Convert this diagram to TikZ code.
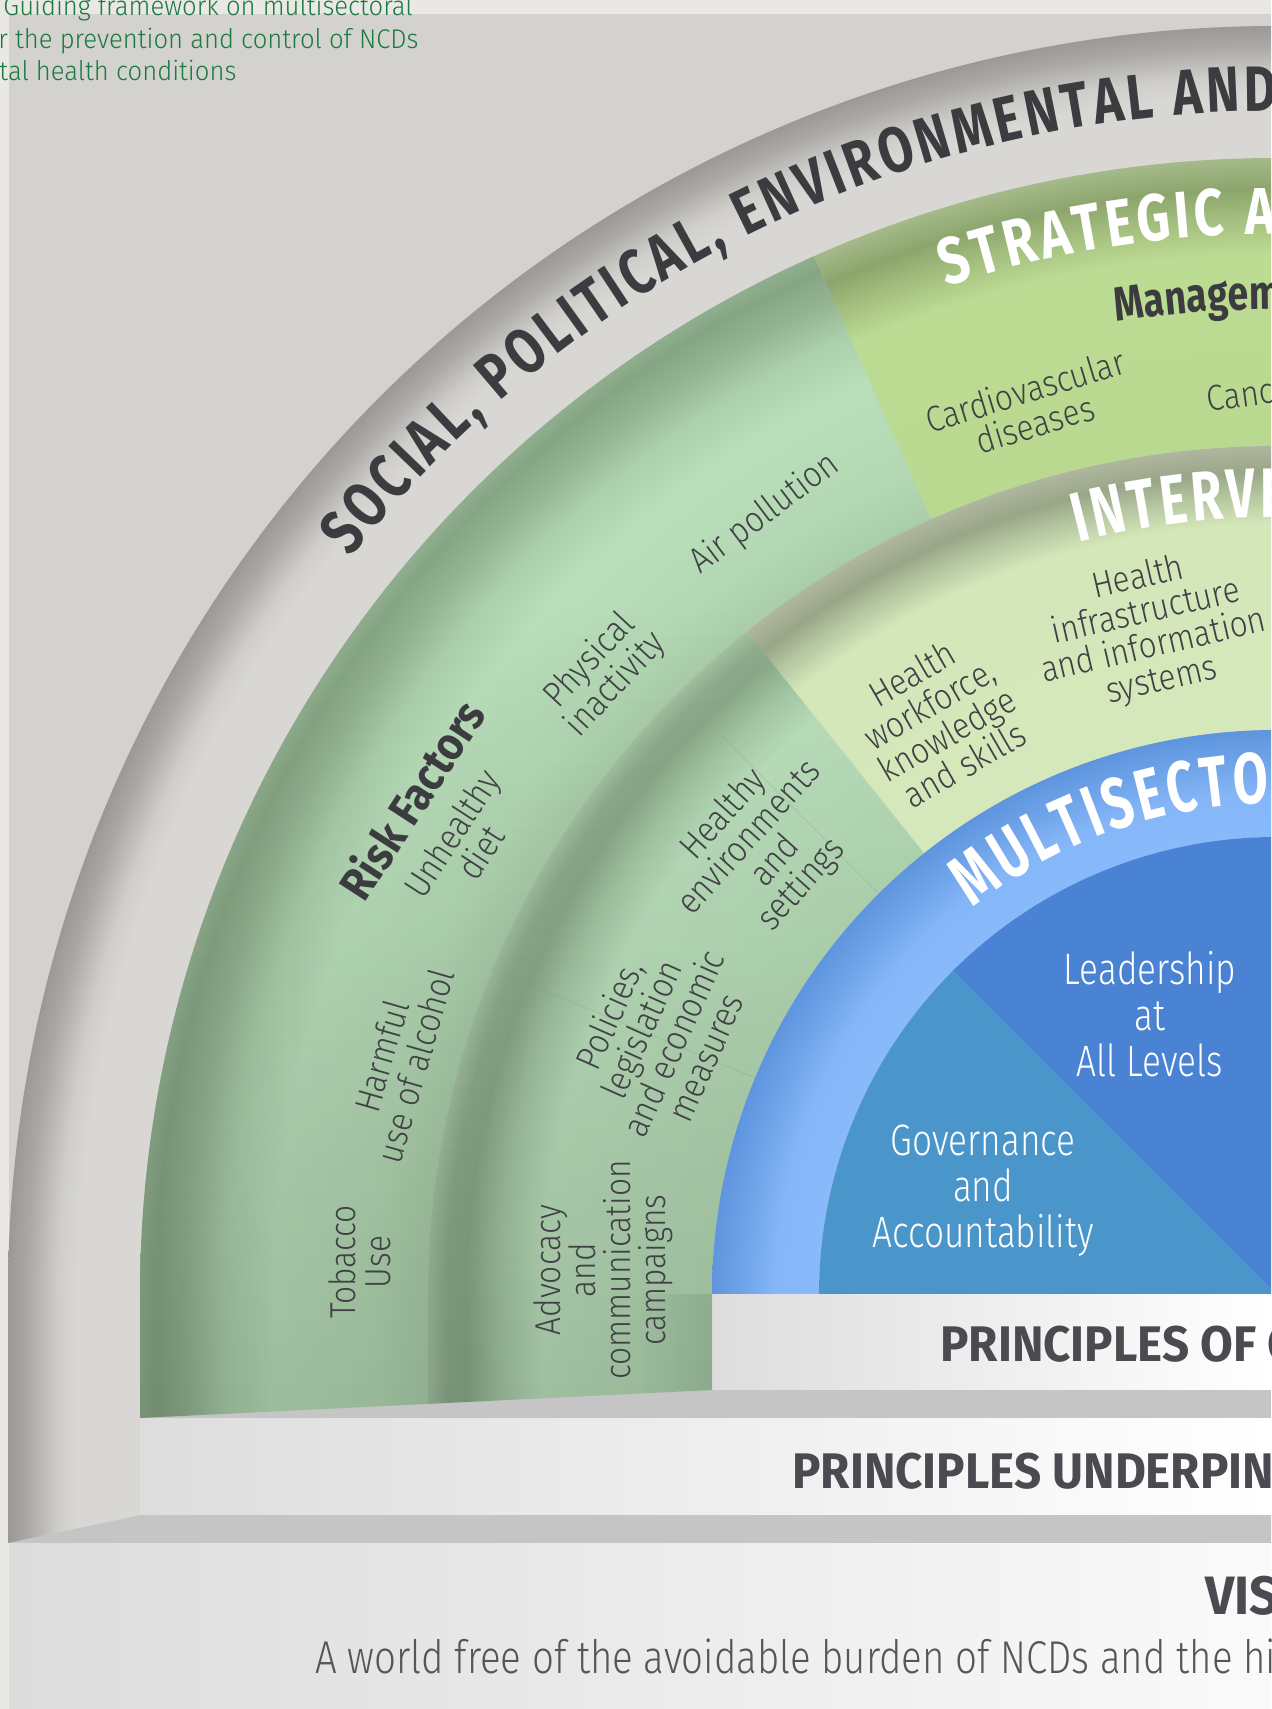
\documentclass[tikz,border=0pt]{standalone}
\usepackage{fontspec}
\setmainfont{Fira Sans}
\newfontfamily\ltf{Fira Sans Light}[FakeStretch=0.88]
\newfontfamily\ltn{Fira Sans Light}[FakeStretch=0.8]
\newfontfamily\ltv{Fira Sans Light}[FakeStretch=0.835]
\newfontfamily\ltt{Fira Sans Light}[FakeStretch=0.95]
\newfontfamily\bdf{Fira Sans}[FakeStretch=0.95]
\newfontfamily\bdr{Fira Sans}[FakeStretch=0.9]
\newfontfamily\bdn{Fira Sans}[FakeStretch=0.78]
\newfontfamily\bdm{Fira Sans}[FakeStretch=0.72]
\newfontfamily\bdk{Fira Sans}[FakeStretch=0.70]
\usetikzlibrary{decorations.text,fadings}

\definecolor{bgL}{HTML}{E9E8E4}
\definecolor{panel}{HTML}{D3D2CE}
\definecolor{strip}{HTML}{C5C5C5}
\definecolor{bnd0}{HTML}{DDDDDD}
\definecolor{vis0}{HTML}{DCDCDC}
\definecolor{vis1}{HTML}{FAFAFA}
\definecolor{headdark}{HTML}{3B3B40}
\definecolor{banddark}{HTML}{4A4A50}
\definecolor{lbldark}{HTML}{404045}
\definecolor{visgray}{HTML}{55555A}
\definecolor{ttlgreen}{HTML}{1B7A40}
% gray ring
\definecolor{gr1}{HTML}{D8D7D3}
\definecolor{gr2}{HTML}{CFCECA}
\definecolor{gr3}{HTML}{ABA9A6}
\definecolor{gr4}{HTML}{9B9997}
% risk ring
\definecolor{rk0}{HTML}{A9CDA9}
\definecolor{rk1}{HTML}{B3D8B3}
\definecolor{rk2}{HTML}{B9DEBA}
\definecolor{rk3}{HTML}{ABCFAB}
\definecolor{rk4}{HTML}{93B391}
\definecolor{rk5}{HTML}{86A584}
\definecolor{rk6}{HTML}{8FAE8D}
% strategic ring
\definecolor{st0}{HTML}{B9D990}
\definecolor{st1}{HTML}{BCDB93}
\definecolor{st2}{HTML}{A0BB7C}
\definecolor{st3}{HTML}{8CA56C}
\definecolor{st4}{HTML}{A4BA8A}
% inner green ring
\definecolor{ig0}{HTML}{B5DAB5}
\definecolor{ig1}{HTML}{BBE0BC}
\definecolor{ig2}{HTML}{A6C9A6}
\definecolor{ig3}{HTML}{8BAA89}
\definecolor{ig4}{HTML}{8FAE8E}
\definecolor{ig5}{HTML}{A3C1A1}
\definecolor{ig6}{HTML}{A3C7A3}
% interventions ring
\definecolor{iv0}{HTML}{D5E8BB}
\definecolor{iv1}{HTML}{D4E7B9}
\definecolor{iv2}{HTML}{B3C49F}
\definecolor{iv3}{HTML}{99A687}
\definecolor{iv4}{HTML}{AFB69F}
% blue ring
\definecolor{bl0}{HTML}{88B9FA}
\definecolor{bl1}{HTML}{85B6F8}
\definecolor{bl2}{HTML}{6EA3E8}
\definecolor{bl3}{HTML}{5E95DE}
\definecolor{gov}{HTML}{4A95C9}
\definecolor{lead}{HTML}{4A83D3}
\definecolor{faintline}{HTML}{7E9C7C}

\pgfdeclareradialshading{grayring}{\pgfpoint{0bp}{0bp}}{color(0bp)=(gr1); color(23.6bp)=(gr1); color(24.0bp)=(gr2); color(24.6bp)=(gr3); color(25bp)=(gr4); color(50bp)=(gr4)}
\pgfdeclareradialshading{riskring}{\pgfpoint{0bp}{0bp}}{color(0bp)=(rk0); color(18.66bp)=(rk0); color(19.81bp)=(rk1); color(22.01bp)=(rk2); color(23.11bp)=(rk3); color(23.99bp)=(rk4); color(24.65bp)=(rk5); color(25bp)=(rk6); color(50bp)=(rk6)}
\pgfdeclareradialshading{stratring}{\pgfpoint{0bp}{0bp}}{color(0bp)=(st0); color(18.66bp)=(st0); color(22.89bp)=(st1); color(23.77bp)=(st2); color(24.32bp)=(st3); color(25bp)=(st4); color(50bp)=(st4)}
\pgfdeclareradialshading{innerring}{\pgfpoint{0bp}{0bp}}{color(0bp)=(ig0); color(16.63bp)=(ig0); color(21.67bp)=(ig1); color(22.85bp)=(ig2); color(23.88bp)=(ig3); color(24.47bp)=(ig4); color(25bp)=(ig5); color(50bp)=(ig5)}
\pgfdeclareradialshading{intring}{\pgfpoint{0bp}{0bp}}{color(0bp)=(iv0); color(16.63bp)=(iv0); color(22.7bp)=(iv1); color(23.58bp)=(iv2); color(24.23bp)=(iv3); color(25bp)=(iv4); color(50bp)=(iv4)}
\pgfdeclareradialshading{bluering}{\pgfpoint{0bp}{0bp}}{color(0bp)=(bl0); color(20.26bp)=(bl0); color(22.16bp)=(bl1); color(23.71bp)=(bl2); color(25bp)=(bl3); color(50bp)=(bl3)}
% walls mirror the ring profiles (x = 1276 - r)
\pgfdeclarehorizontalshading{graywall}{100bp}{color(0bp)=(gr4); color(25bp)=(gr4); color(32.6bp)=(gr3); color(44.3bp)=(gr2); color(51.9bp)=(gr1); color(75bp)=(gr1); color(100bp)=(gr1)}
\pgfdeclarehorizontalshading{riskwall}{100bp}{color(0bp)=(rk6); color(25bp)=(rk6); color(27.8bp)=(rk5); color(33.0bp)=(rk4); color(39.9bp)=(rk3); color(48.6bp)=(rk2); color(66.0bp)=(rk1); color(75bp)=(rk0); color(100bp)=(rk0)}
\pgfdeclarehorizontalshading{innerwall}{100bp}{color(0bp)=(ig5); color(25bp)=(ig5); color(28.2bp)=(ig4); color(31.7bp)=(ig3); color(37.9bp)=(ig2); color(44.9bp)=(ig1); color(62bp)=(ig0); color(75bp)=(ig6); color(100bp)=(ig6)}
\tikzfading[name=darkdown, top color=transparent!100, bottom color=transparent!85]

\tikzset{
  lbl/.style={font=\ltf\fontsize{18}{17.5}\selectfont, text=lbldark, align=center, inner sep=0pt},
  lblw/.style={font=\ltn\fontsize{22}{23}\selectfont, text=white, align=center, inner sep=0pt},
  ttl/.style={font=\ltt\fontsize{13.5}{16}\selectfont, text=ttlgreen, anchor=base west, inner sep=0pt},
  bandtxt/.style={font=\bdf\bfseries\fontsize{25}{25}\selectfont, text=banddark, anchor=base west, inner sep=0pt},
  faint/.style={draw=faintline, line width=0.35pt, opacity=0.3},
}

\begin{document}
\begin{tikzpicture}[x=0.5pt,y=0.5pt]
\useasboundingbox (0,0) rectangle (1271,1709);
\clip (0,0) rectangle (1271,1709);
% background and panel
\fill[bgL] (0,0) rectangle (1271,1709);
\fill[panel] (9,0) rectangle (1271,1695);
% bottom steps
\shade[left color=vis0, right color=vis1] (9,0) rectangle (1271,166);
\fill[strip] (8,166) -- (1271,166) -- (1271,194) -- (140,194) -- cycle;
\shade[left color=bnd0, right color=white] (140,194) rectangle (1271,291);
\fill[strip] (140,291) rectangle (1271,319);
\shade[left color=bnd0, right color=white] (712,319) rectangle (1271,415);
% walls
\begin{scope}
  \clip (8,415) -- (140,415) -- (140,194) -- (8,166) -- cycle;
  \shade[shading=graywall] (8,160) rectangle (140,420);
\end{scope}
\begin{scope}
  \clip (140,415.5) -- (428,415.5) -- (428,305.1) -- (140,291) -- cycle;
  \shade[shading=riskwall] (140,280) rectangle (428,420);
\end{scope}
\begin{scope}
  \clip (428,415.5) -- (712,415.5) -- (712,319) -- (428,305.1) -- cycle;
  \shade[shading=innerwall] (428,300) rectangle (712,420);
\end{scope}
% rings, centred at (1276,415)
\begin{scope}[shift={(1276,415)}]
  \begin{scope}
    \clip (85:1268) arc[start angle=85,end angle=180,radius=1268] -- (180:1136) arc[start angle=180,end angle=85,radius=1136] -- cycle;
    \shade[shading=grayring] (0,0) circle[radius=1268];
  \end{scope}
  \begin{scope}
    \clip (114:1136) arc[start angle=114,end angle=180,radius=1136] -- (180:848) arc[start angle=180,end angle=114,radius=848] -- cycle;
    \shade[shading=riskring] (0,0) circle[radius=1136];
  \end{scope}
  \begin{scope}
    \clip (85:1136) arc[start angle=85,end angle=114,radius=1136] -- (114:848) arc[start angle=114,end angle=85,radius=848] -- cycle;
    \shade[shading=stratring] (0,0) circle[radius=1136];
  \end{scope}
  \begin{scope}
    \clip (128.6:848) arc[start angle=128.6,end angle=180,radius=848] -- (180:564) arc[start angle=180,end angle=128.6,radius=564] -- cycle;
    \shade[shading=innerring] (0,0) circle[radius=848];
  \end{scope}
  \begin{scope}
    \clip (85:848) arc[start angle=85,end angle=128.6,radius=848] -- (128.6:564) arc[start angle=128.6,end angle=85,radius=564] -- cycle;
    \shade[shading=intring] (0,0) circle[radius=848];
  \end{scope}
  % darkening of the lower green arches (light from above)
  \begin{scope}
    \clip (128.6:1136) arc[start angle=128.6,end angle=180,radius=1136] -- (-1136,-124) -- (-564,-96) -- (180:564) arc[start angle=180,end angle=128.6,radius=564] -- cycle;
    \fill[black, path fading=darkdown] (-1140,-125) rectangle (-250,690);
  \end{scope}
  \begin{scope}
    \clip (85:564) arc[start angle=85,end angle=180,radius=564] -- (180:457) arc[start angle=180,end angle=85,radius=457] -- cycle;
    \shade[shading=bluering] (0,0) circle[radius=564];
  \end{scope}
  \fill[gov] (0,0) -- (135:457) arc[start angle=135,end angle=180,radius=457] -- cycle;
  \fill[lead] (0,0) -- (85:457) arc[start angle=85,end angle=135,radius=457] -- cycle;
  % curved headings
  \path[decorate, decoration={text along path, text align={fit to path}, text color=headdark,
     text={|\bdn\bfseries\fontsize{32}{32}\selectfont|SOCIAL, POLITICAL, ENVIRONMENTAL AND}}]
     (141.5:1183) arc[start angle=141.5,end angle=90.0,radius=1183];
  \path[decorate, decoration={text along path, text align={fit to path}, text color=white,
     text={|\bdn\bfseries\fontsize{33}{33}\selectfont|STRATEGIC A}}]
     (108.1:1060) arc[start angle=108.1,end angle=90.0,radius=1060];
  \path[decorate, decoration={text along path, text align=left, text color=headdark,
     text={|\bdn\bfseries\fontsize{24}{24}\selectfont|Managem}}]
     (99.3:985) arc[start angle=99.3,end angle=84,radius=985];
  \path[decorate, decoration={text along path, text align={fit to path}, text color=white,
     text={|\bdm\bfseries\fontsize{35}{35}\selectfont|INTERVE}}]
     (104.7:777) arc[start angle=104.7,end angle=89.2,radius=777];
  \path[decorate, decoration={text along path, text align={fit to path}, text color=white,
     text={|\bdk\bfseries\fontsize{36}{36}\selectfont|MULTISECTO}}]
     (128.1:491) arc[start angle=128.1,end angle=90.8,radius=491];
\end{scope}
% faint dividers in the inner green ring
\draw[faint] (490,741) -- (755,631);
\draw[faint] (713,982) -- (880,814);
% labels
\node[lbl, rotate=17] (cvd) at (1030,1302) {Cardiovascular\\diseases};
\node[lbl, rotate=8, anchor=base west] (canc) at (1208,1297) {Canc};
\node[lbl, rotate=13] (hinf) at (1150,1079) {Health\\infrastructure\\and information\\systems};
\node[lbl, rotate=30] (hwf) at (938,990) {Health\\workforce,\\knowledge\\and skills};
\node[font=\bdr\bfseries\fontsize{23}{23}\selectfont, text=headdark, rotate=57, inner sep=0pt] (rf) at (411,910) {Risk Factors};
\node[lbl, rotate=57] (diet) at (466,866) {Unhealthy\\diet};
\node[lbl, rotate=47] (pa) at (603,1036) {Physical\\inactivity};
\node[lbl, rotate=37] (air) at (765,1195) {Air pollution};
\node[lbl, rotate=74] (alc) at (398,648) {Harmful\\use of alcohol};
\node[lbl, rotate=90] (tob) at (360,447) {Tobacco\\Use};
\node[lbl, rotate=48] (env) at (763,859) {Healthy\\environments\\and\\settings};
\node[lbl, rotate=66] (pol) at (657,673) {Policies,\\legislation\\and economic\\measures};
\node[lbl, rotate=90] (adv) at (603,439) {Advocacy\\and\\communication\\campaigns};
\node[lblw] (lead) at (1150,695) {Leadership\\at\\All Levels};
\node[lblw] (gov) at (983,518) {Governance\\and\\Accountability};
% bottom bands
\node[bandtxt] (poc) at (940,347) {PRINCIPLES OF C};
\node[bandtxt] (pun) at (792,220) {PRINCIPLES UNDERPINN};
\node[font=\bdf\bfseries\fontsize{27}{27}\selectfont, text=banddark, anchor=base west, inner sep=0pt] (vis) at (1205,94) {VIS};
\node[font=\ltv\fontsize{23}{23}\selectfont, text=visgray, anchor=base west, inner sep=0pt] (vtx) at (315,35) {A world free of the avoidable burden of NCDs and the hi};
% title
\node[ttl] (t1) at (3,1693) {Guiding framework on multisectoral};
\node[ttl] (t2) at (-2,1660) {r the prevention and control of NCDs};
\node[ttl] (t3) at (-1,1628) {tal health conditions};
\end{tikzpicture}
\end{document}
